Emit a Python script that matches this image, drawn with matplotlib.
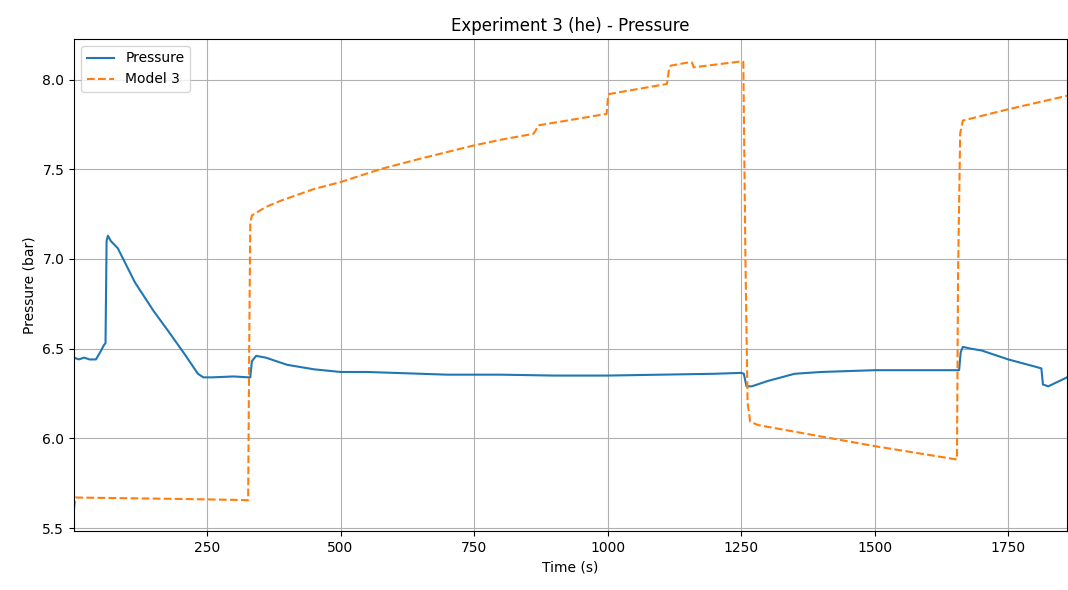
import matplotlib
matplotlib.use("Agg")
import matplotlib.pyplot as plt

# Measured pressure (bar) vs time (s)
pressure_t = [1, 10, 20, 30, 42, 50, 57, 60, 62, 64.5, 70, 83, 115, 150, 177, 208, 233, 243,
              260, 300, 328, 331, 334, 342, 360, 400, 450, 500, 550, 600, 700, 800, 900, 1000,
              1100, 1200, 1250, 1255, 1260, 1270, 1300, 1350, 1400, 1500, 1600, 1655, 1658,
              1661, 1665, 1680, 1700, 1750, 1800, 1812, 1815, 1825, 1860]
pressure_v = [6.45, 6.44, 6.45, 6.44, 6.44, 6.48, 6.52, 6.53, 7.10, 7.13, 7.10, 7.06, 6.87, 6.71,
              6.60, 6.47, 6.36, 6.34, 6.34, 6.345, 6.34, 6.34, 6.43, 6.46, 6.45, 6.41, 6.385,
              6.37, 6.37, 6.365, 6.355, 6.355, 6.35, 6.35, 6.355, 6.36, 6.365, 6.36, 6.29, 6.29,
              6.32, 6.36, 6.37, 6.38, 6.38, 6.38, 6.38, 6.48, 6.51, 6.50, 6.49, 6.44, 6.40,
              6.39, 6.30, 6.29, 6.34]

# Model 3 prediction
model_t = [1, 4, 100, 200, 300, 327, 329, 331, 334, 360, 389, 450, 499, 577, 650, 748, 800, 861,
           866, 870, 998, 1001, 1003, 1111, 1115, 1118, 1151, 1158, 1161, 1251, 1254, 1258,
           1262, 1267, 1283, 1501, 1654, 1656, 1660, 1665, 1750, 1860]
model_v = [5.608, 5.67, 5.666, 5.662, 5.657, 5.655, 6.5, 7.20, 7.243, 7.29, 7.326, 7.39, 7.428,
           7.503, 7.56, 7.632, 7.665, 7.698, 7.72, 7.745, 7.809, 7.91, 7.92, 7.976, 8.06, 8.078,
           8.096, 8.096, 8.069, 8.102, 8.10, 7.0, 6.2, 6.092, 6.073, 5.956, 5.882, 6.9, 7.7,
           7.772, 7.835, 7.91]

fig = plt.figure(figsize=(10.68, 5.9), dpi=100)
ax = fig.add_axes([74/1068, 1 - 531/590, (1067 - 74)/1068, (531 - 39)/590])
ax.plot(pressure_t, pressure_v, color="#1f77b4", lw=1.5, label="Pressure")
ax.plot(model_t, model_v, color="#ff7f0e", lw=1.5, ls="--", label="Model 3")
ax.set_xlim(pressure_t[0], pressure_t[-1])
ax.set_title("Experiment 3 (he) - Pressure")
ax.set_xlabel("Time (s)")
ax.set_ylabel("Pressure (bar)")
ax.grid(True)
ax.legend(loc="upper left")
fig.savefig("out.png", dpi=100)
